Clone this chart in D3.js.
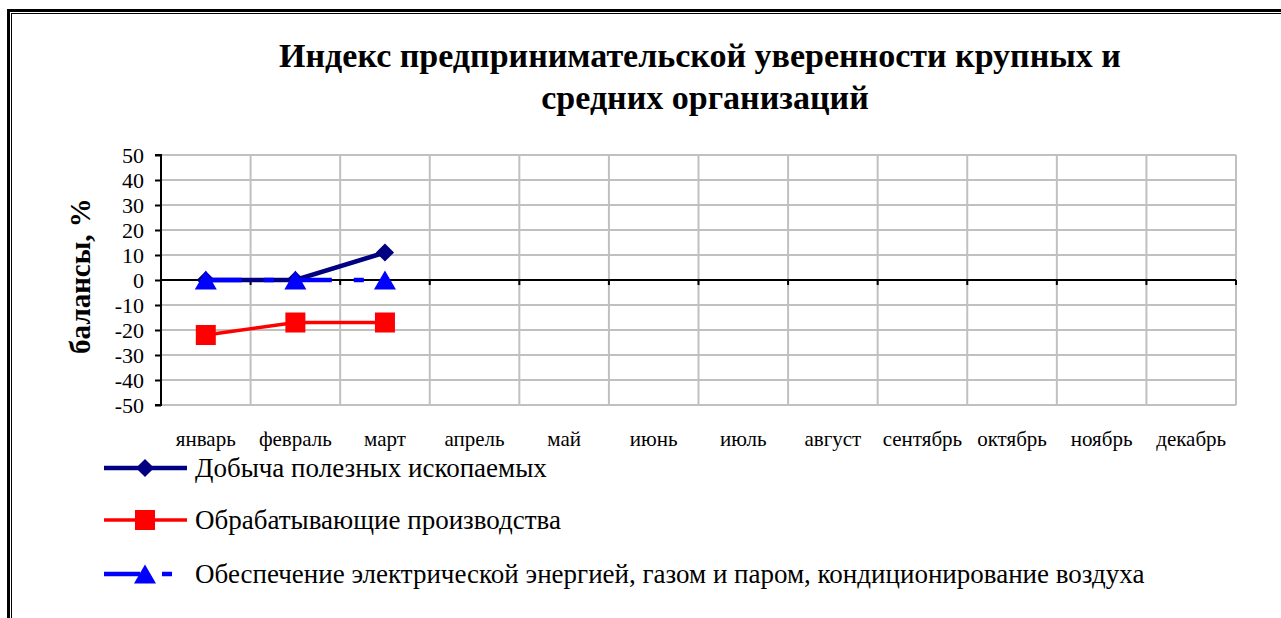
<!DOCTYPE html>
<html>
<head>
<meta charset="utf-8">
<script src="https://cdn.jsdelivr.net/npm/d3@7"></script>
<style>
  body { margin: 0; background: #fff; }
  text { font-family: 'Liberation Serif', 'Times New Roman', serif; fill: #000; }
</style>
</head>
<body>
<div class="chart"></div>
<script>
const months = ['январь', 'февраль', 'март', 'апрель', 'май', 'июнь', 'июль', 'август', 'сентябрь', 'октябрь', 'ноябрь', 'декабрь'];
const yTicks = [50, 40, 30, 20, 10, 0, -10, -20, -30, -40, -50];

const mining = [0, 0, 11];
const manufacturing = [-22, -17, -17];
const energy = [0, 0, 0];

const seriesNames = [
  'Добыча полезных ископаемых',
  'Обрабатывающие производства',
  'Обеспечение электрической энергией, газом и паром, кондиционирование воздуха'
];

const width = 1281;
const height = 618;
const plot = { left: 161, right: 1236, top: 155, bottom: 405 };

const svg = d3
  .select('.chart')
  .append('svg')
  .attr('width', width)
  .attr('height', height);

// double frame
svg.append('rect')
  .attr('x', 8.5).attr('y', 10.5)
  .attr('width', 1300).attr('height', 700)
  .attr('fill', 'none').attr('stroke', '#000').attr('stroke-width', 3);
svg.append('rect')
  .attr('x', 11.5).attr('y', 13.5)
  .attr('width', 1300).attr('height', 700)
  .attr('fill', 'none').attr('stroke', '#000').attr('stroke-width', 1);

// title
const title = svg.append('text')
  .attr('text-anchor', 'middle')
  .attr('font-weight', 'bold')
  .attr('font-size', '34px');
title.append('tspan').attr('x', 700).attr('y', 67).text('Индекс предпринимательской уверенности крупных и');
title.append('tspan').attr('x', 705).attr('y', 109).text('средних организаций');

const xScale = d3.scaleBand().domain(months).range([plot.left, plot.right]);
const yScale = d3.scaleLinear().domain([-50, 50]).range([plot.bottom, plot.top]);
const bounds = months.slice(1).map((d) => xScale(d)).concat([plot.right]);

// gridlines
svg.append('g')
  .selectAll('line')
  .data(yTicks)
  .join('line')
  .attr('x1', plot.left).attr('x2', plot.right)
  .attr('y1', (d) => yScale(d)).attr('y2', (d) => yScale(d))
  .attr('stroke', '#c0c0c0').attr('stroke-width', 2);

svg.append('g')
  .selectAll('line')
  .data(bounds)
  .join('line')
  .attr('x1', (d) => d).attr('x2', (d) => d)
  .attr('y1', plot.top).attr('y2', plot.bottom)
  .attr('stroke', '#c0c0c0').attr('stroke-width', 2);

// zero axis with ticks
svg.append('line')
  .attr('x1', plot.left).attr('x2', plot.right)
  .attr('y1', yScale(0)).attr('y2', yScale(0))
  .attr('stroke', '#000').attr('stroke-width', 2);
svg.append('g')
  .selectAll('line')
  .data(bounds)
  .join('line')
  .attr('x1', (d) => d).attr('x2', (d) => d)
  .attr('y1', yScale(0)).attr('y2', yScale(0) + 5)
  .attr('stroke', '#000').attr('stroke-width', 2);

// y axis
const yAxis = d3.axisLeft(yScale).tickValues(yTicks).tickSize(6).tickPadding(11)
  .tickFormat((d) => String(d));
const yg = svg.append('g')
  .attr('transform', `translate(${plot.left},0)`)
  .call(yAxis);
yg.select('.domain').attr('stroke', '#000').attr('stroke-width', 2).attr('d', `M-6,${plot.top}H0V${plot.bottom}H-6`);
yg.selectAll('.tick line').attr('stroke', '#000').attr('stroke-width', 2);
yg.selectAll('.tick text')
  .attr('font-family', 'Liberation Serif')
  .attr('font-size', '22px')
  .attr('fill', '#000');

// y axis title
svg.append('text')
  .attr('transform', 'translate(90,276) rotate(-90)')
  .attr('text-anchor', 'middle')
  .attr('font-weight', 'bold')
  .attr('font-size', '29px')
  .text('балансы, %');

// month labels
svg.append('g')
  .selectAll('text')
  .data(months)
  .join('text')
  .attr('x', (d) => xScale(d) + xScale.bandwidth() / 2)
  .attr('y', 446)
  .attr('text-anchor', 'middle')
  .attr('font-size', '21px')
  .text((d) => d);

const cx = (i) => xScale(months[i]) + xScale.bandwidth() / 2;
const line = d3.line().x((d, i) => cx(i)).y((d) => yScale(d));

const diamond = d3.symbol().type(d3.symbolSquare).size(165);
const square = d3.symbol().type(d3.symbolSquare).size(400);
const triSize = 210;
const triShift = Math.sqrt(triSize / (Math.sqrt(3) * 3)) / 2;
const triangle = d3.symbol().type(d3.symbolTriangle).size(triSize);

// manufacturing (red)
svg.append('path')
  .datum(manufacturing)
  .attr('d', line)
  .attr('fill', 'none').attr('stroke', '#ff0000').attr('stroke-width', 3.5);
svg.append('g')
  .selectAll('path')
  .data(manufacturing)
  .join('path')
  .attr('d', square)
  .attr('transform', (d, i) => `translate(${cx(i)},${yScale(d)})`)
  .attr('fill', '#ff0000');

// mining (navy)
svg.append('path')
  .datum(mining)
  .attr('d', line)
  .attr('fill', 'none').attr('stroke', '#000080').attr('stroke-width', 4.5);
svg.append('g')
  .selectAll('path')
  .data(mining)
  .join('path')
  .attr('d', diamond)
  .attr('transform', (d, i) => `translate(${cx(i)},${yScale(d)}) rotate(45)`)
  .attr('fill', '#000080');

// energy (blue dashed)
svg.append('path')
  .datum(energy)
  .attr('d', line)
  .attr('fill', 'none').attr('stroke', '#0000ff').attr('stroke-width', 4.5)
  .attr('stroke-dasharray', '36,22,10,22');
svg.append('g')
  .selectAll('path')
  .data(energy)
  .join('path')
  .attr('d', triangle)
  .attr('transform', (d, i) => `translate(${cx(i)},${yScale(d) + triShift})`)
  .attr('fill', '#0000ff');

// legend
const legendY = [468, 520, 574];
const legend = svg.append('g');

legend.append('line')
  .attr('x1', 104).attr('x2', 187).attr('y1', legendY[0]).attr('y2', legendY[0])
  .attr('stroke', '#000080').attr('stroke-width', 4.5);
legend.append('path')
  .attr('d', diamond)
  .attr('transform', `translate(145,${legendY[0]}) rotate(45)`)
  .attr('fill', '#000080');

legend.append('line')
  .attr('x1', 104).attr('x2', 187).attr('y1', legendY[1]).attr('y2', legendY[1])
  .attr('stroke', '#ff0000').attr('stroke-width', 3.5);
legend.append('path')
  .attr('d', square)
  .attr('transform', `translate(145,${legendY[1]})`)
  .attr('fill', '#ff0000');

legend.append('line')
  .attr('x1', 104).attr('x2', 187).attr('y1', legendY[2]).attr('y2', legendY[2])
  .attr('stroke', '#0000ff').attr('stroke-width', 4.5)
  .attr('stroke-dasharray', '36,22,10,22');
legend.append('path')
  .attr('d', triangle)
  .attr('transform', `translate(145,${legendY[2] + triShift})`)
  .attr('fill', '#0000ff');

legend.selectAll('text.legend-label')
  .data(seriesNames)
  .join('text')
  .attr('class', 'legend-label')
  .attr('x', 195)
  .attr('y', (d, i) => legendY[i] + 9)
  .attr('font-size', '27px')
  .text((d) => d);
</script>
</body>
</html>
